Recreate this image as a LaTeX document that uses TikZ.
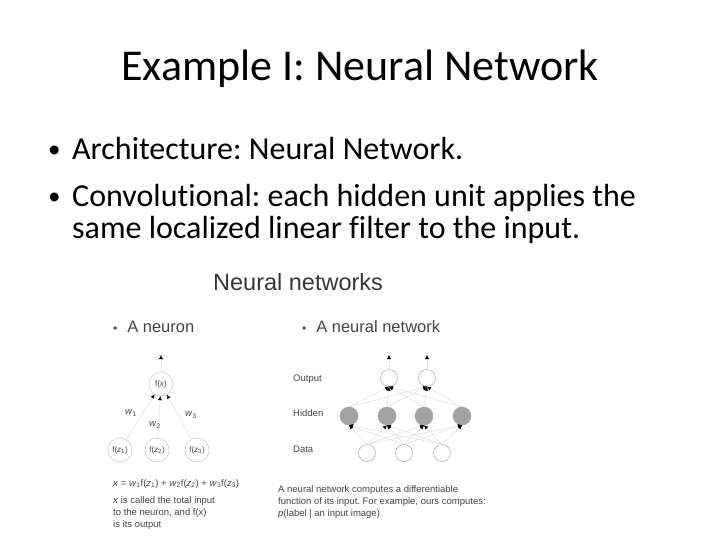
\documentclass[tikz,border=0pt]{standalone}
\usepackage{fontspec}
\setmainfont{Carlito}[Ligatures=NoCommon]
\newfontfamily\arialfont{Liberation Sans}
\usetikzlibrary{arrows.meta,positioning}
\definecolor{figtext}{HTML}{444444}
\definecolor{unitline}{HTML}{9A9A9A}
\definecolor{hiddenfill}{HTML}{A3A3A3}
\definecolor{linkgray}{HTML}{DADADA}
\frenchspacing

\begin{document}
\begin{tikzpicture}[x=1pt, y=-1pt,
  slidetext/.style={anchor=base west, inner sep=0pt, font=\fontsize{32}{38}\selectfont},
  bulletmark/.style={anchor=base west, inner sep=0pt, font=\fontsize{25}{30}\selectfont},
  figlabel/.style={anchor=base west, inner sep=0pt, text=figtext, font=\arialfont\fontsize{9.5}{11.5}\selectfont},
  fighead/.style={anchor=base west, inner sep=0pt, text=figtext, font=\arialfont\fontsize{16.5}{20}\selectfont},
  unit/.style={circle, draw=unitline, minimum size=17pt, inner sep=0pt, fill=white},
  hunit/.style={unit, fill=hiddenfill, minimum size=18pt},
  fnode/.style={circle, draw=unitline!70, minimum size=24pt, inner sep=0pt, text=figtext,
    font=\arialfont\fontsize{8}{9}\selectfont},
  link/.style={draw=linkgray, -{Latex[black, length=4pt, width=4pt]}},
  outlink/.style={draw=linkgray, densely dotted, -{Latex[black, length=4pt, width=4pt]}}
]
\useasboundingbox (0,0) rectangle (720,540);

% slide title and bullets
\node[anchor=base, inner sep=0pt, font=\fontsize{44}{50}\selectfont] (title) at (360,81) {Example I: Neural Network};
\node[bulletmark] (b1) at (48,158) {•};
\node[slidetext] (arch) at (72,160) {Architecture: Neural Network.};
\node[bulletmark] (b2) at (48,205) {•};
\node[slidetext] (conv) at (72,207) {Convolutional: each hidden unit applies the};
\node[slidetext] (conv2) at (72,239) {same localized linear filter to the input.};

% embedded figure
\node[anchor=base west, inner sep=0pt, text=figtext!80!black, font=\arialfont\fontsize{23.5}{28}\selectfont] (nnhead) at (213,290) {Neural networks};
\node[fighead] (neuronhead) at (113,332) {{\fontsize{12}{12}\selectfont•}\hspace{0.6em}A neuron};
\node[fighead] (nethead) at (302,332) {{\fontsize{12}{12}\selectfont•}\hspace{0.6em}A neural network};

% a neuron
\node[fnode] (fx) at (161,384) {f(\textit{x})};
\node[fnode] (z1) at (120,450) {f(\textit{z}\textsubscript{1})};
\node[fnode] (z2) at (157,450) {f(\textit{z}\textsubscript{2})};
\node[fnode] (z3) at (197,450) {f(\textit{z}\textsubscript{3})};
\coordinate (fxtop) at (161,355);
\draw[outlink] (fx) -- (fxtop);
\foreach \i in {1,2,3}
  \draw[link] (z\i) -- (fx);
\node[figlabel, anchor=center] (w1) at (131,413) {\textit{w}\textsubscript{1}};
\node[figlabel, anchor=center] (w2) at (155,425) {\textit{w}\textsubscript{2}};
\node[figlabel, anchor=center] (w3) at (191,415) {\textit{w}\textsubscript{3}};

\node[figlabel] (eqn) at (113,486) {\textit{x} = \textit{w}\textsubscript{1}f(\textit{z}\textsubscript{1}) + \textit{w}\textsubscript{2}f(\textit{z}\textsubscript{2}) + \textit{w}\textsubscript{3}f(\textit{z}\textsubscript{3})};
\node[figlabel] (note1) at (113,503) {\textit{x} is called the total input};
\node[figlabel] (note2) at (113,515) {to the neuron, and f(x)};
\node[figlabel] (note3) at (113,527) {is its output};

% a neural network
\node[figlabel] (outlab) at (293,381) {Output};
\node[figlabel] (hidlab) at (293,416) {Hidden};
\node[figlabel] (datlab) at (293,452) {Data};

\node[unit] (o1) at (389,378) {};
\node[unit] (o2) at (427,378) {};
\node[hunit] (h1) at (349,416) {};
\node[hunit] (h2) at (387,416) {};
\node[hunit] (h3) at (424,416) {};
\node[hunit] (h4) at (462,416) {};
\node[unit] (d1) at (367,453) {};
\node[unit] (d2) at (404,453) {};
\node[unit] (d3) at (442,453) {};
\coordinate (oa1) at (389,355);
\coordinate (oa2) at (427,355);

\foreach \d in {1,2,3}
  \foreach \h in {1,...,4}
    \draw[link] (d\d.north) -- (h\h.south);
\foreach \h in {1,...,4}
  \foreach \o in {1,2}
    \draw[link] (h\h.north) -- (o\o.south);
\draw[outlink] (o1) -- (oa1);
\draw[outlink] (o2) -- (oa2);

\node[figlabel] (cap1) at (278,492) {A neural network computes a differentiable};
\node[figlabel] (cap2) at (278,504) {function of its input. For example, ours computes:};
\node[figlabel] (cap3) at (278,516) {\textit{p}(label | an input image)};
\end{tikzpicture}
\end{document}
